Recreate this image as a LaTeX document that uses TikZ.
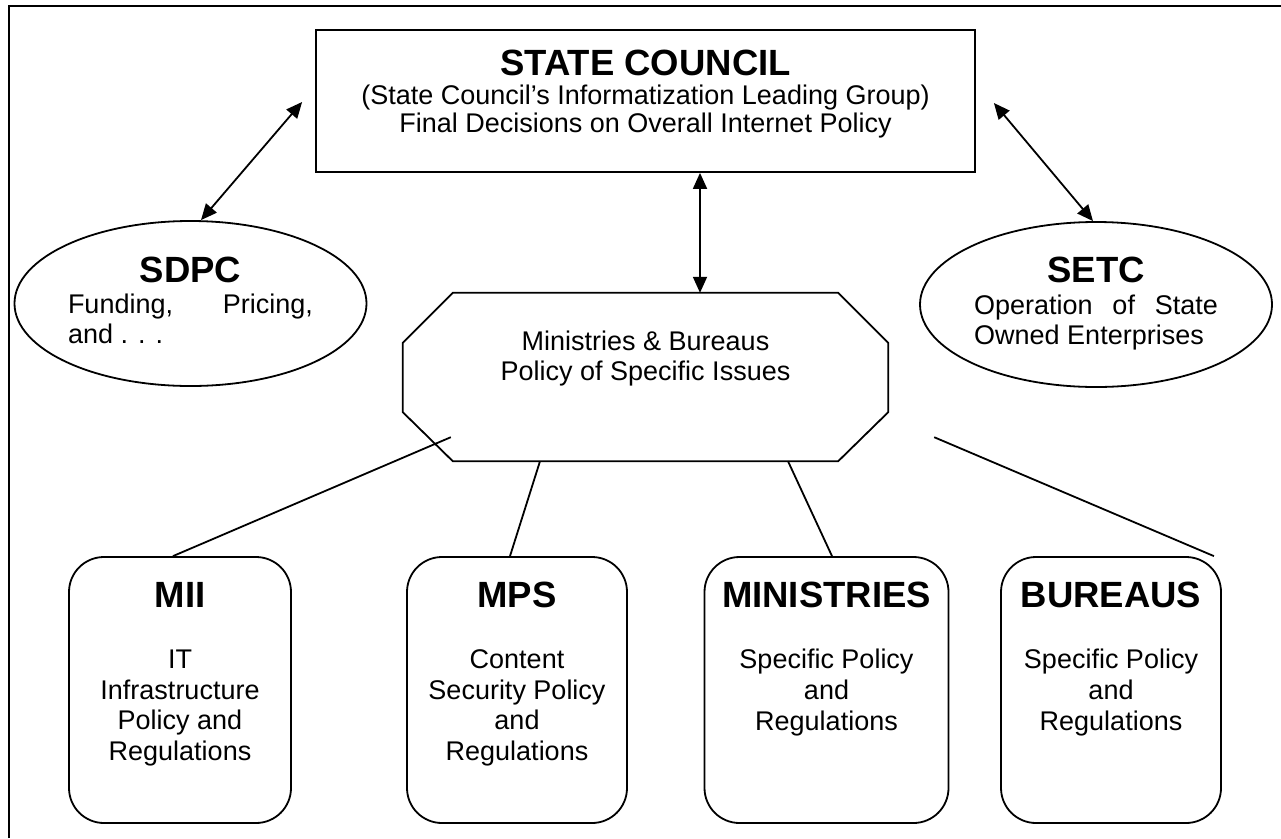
\documentclass[tikz,border=0pt]{standalone}
\usepackage{fontspec}
\setmainfont{Liberation Sans}
\usetikzlibrary{shapes.geometric,arrows.meta,calc}
\begin{document}
\begin{tikzpicture}[x=1pt,y=-1pt,
  ln/.style={line width=1.8pt},
  txt/.style={inner sep=0pt, font=\fontsize{27}{30}\selectfont, anchor=base},
  hd/.style={inner sep=0pt, font=\bfseries\fontsize{36.5}{40}\selectfont, anchor=base},
  shp/.style={draw, line width=1.8pt, inner sep=0pt},
  rbox/.style={shp, rectangle, rounded corners=35pt, minimum width=#1, minimum height=266pt},
  ell/.style={shp, ellipse, minimum width=352pt, minimum height=165pt},
  dar/.style={ln, {Triangle[length=16pt,width=14pt]}-{Triangle[length=16pt,width=14pt]}},
]
\useasboundingbox (0,0) rectangle (1281,838);
% frame (only top and left edges visible)
\draw[line width=2.6pt] (9,838) -- (9,6) -- (1281,6);

% shapes
\node[shp, rectangle, minimum width=659pt, minimum height=142pt] (sc) at (645.5,101) {};
\node[ell] (sdpc) at (190.5,303.5) {};
\node[ell] (setc) at (1096,304.5) {};
\node[rectangle, inner sep=0pt, minimum width=485pt, minimum height=168pt] (mb) at (645.5,377) {};
\draw[ln, line join=miter]
  ($(mb.north west)+(50,0)$) -- ($(mb.north east)+(-50,0)$) -- ($(mb.north east)+(0,50)$)
  -- ($(mb.south east)+(0,-49)$) -- ($(mb.south east)+(-50,0)$) -- ($(mb.south west)+(50,0)$)
  -- ($(mb.south west)+(0,-49)$) -- ($(mb.north west)+(0,50)$) -- cycle;
\node[rbox=222pt] (mii) at (180,690) {};
\node[rbox=220pt] (mps) at (517,690) {};
\node[rbox=244pt] (mins) at (826.5,690) {};
\node[rbox=220pt] (bur) at (1111,690) {};

% texts
\node[hd] (sct) at (645.5,75) {STATE COUNCIL};
\node[txt] (sc1) at (645.5,104) {(State Council’s Informatization Leading Group)};
\node[txt] (sc2) at (645.5,132) {Final Decisions on Overall Internet Policy};

\node[hd] (sdpct) at (190.5,282) {SDPC};
\node[txt] (sdpc1) at (190.5,313) {\makebox[245pt][l]{Funding,\hfill Pricing,}};
\node[txt, anchor=base west] (sdpc2) at (68,343) {and . . .};

\node[hd] (setct) at (1096,282) {SETC};
\node[txt] (setc1) at (1096,314) {\makebox[244pt][l]{Operation\hfill of\hfill State}};
\node[txt, anchor=base west] (setc2) at (974,344) {Owned Enterprises};

\node[txt] (mb1) at (645.5,350) {Ministries \& Bureaus};
\node[txt] (mb2) at (645.5,380) {Policy of Specific Issues};

\node[hd] (miit) at (180,607) {MII};
\node[txt] (mii1) at (180,668) {IT};
\node[txt] (mii2) at (180,699) {Infrastructure};
\node[txt] (mii3) at (180,729) {Policy and};
\node[txt] (mii4) at (180,760) {Regulations};

\node[hd] (mpst) at (517,607) {MPS};
\node[txt] (mps1) at (517,668) {Content};
\node[txt] (mps2) at (517,699) {Security Policy};
\node[txt] (mps3) at (517,729) {and};
\node[txt] (mps4) at (517,760) {Regulations};

\node[hd] (minst) at (826.5,607) {MINISTRIES};
\node[txt] (mins1) at (826.5,668) {Specific Policy};
\node[txt] (mins2) at (826.5,699) {and};
\node[txt] (mins3) at (826.5,730) {Regulations};

\node[hd] (burt) at (1111,607) {BUREAUS};
\node[txt] (bur1) at (1111,668) {Specific Policy};
\node[txt] (bur2) at (1111,699) {and};
\node[txt] (bur3) at (1111,730) {Regulations};

% arrows
\coordinate (a1) at ($(sc.west)+(-13,1)$);
\coordinate (a2) at ($(sc.east)+(18,2)$);
\draw[dar] (a1) -- ($(sdpc.north)+(10.5,0)$);
\draw[dar] (a2) -- ($(setc.north)+(-3,0)$);
\draw[dar] ($(sc.south)+(54.5,0)$) -- ($(mb.north)+(54.5,0)$);

% lines to the lower boxes
\coordinate (m1) at ($(mb.south west)+(48,-24)$);
\coordinate (m2) at ($(mb.south)+(-105.5,0)$);
\coordinate (m3) at ($(mb.south)+(142.5,0)$);
\coordinate (m4) at ($(mb.south east)+(46,-24)$);
\coordinate (b4) at ($(bur.north east)+(-8,0)$);
\draw[ln] (m1) -- ($(mii.north)+(-7,0)$);
\draw[ln] (m2) -- ($(mps.north)+(-7,0)$);
\draw[ln] (m3) -- ($(mins.north)+(5.5,0)$);
\draw[ln] (m4) -- (b4);
\end{tikzpicture}
\end{document}
